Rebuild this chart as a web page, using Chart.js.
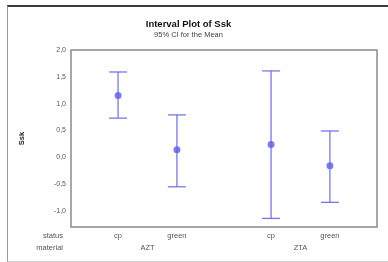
<!DOCTYPE html>
<html><head><meta charset="utf-8">
<script src="https://cdn.jsdelivr.net/npm/chart.js@4/dist/chart.umd.min.js"></script>
<style>
html,body{margin:0;padding:0;background:#fff;}
#wrap{position:relative;width:388px;height:262px;overflow:hidden;}
#frame{position:absolute;left:7px;top:5px;width:390px;height:254px;border-top:2px solid #3a3a3a;border-left:1px solid #9a9a9a;border-bottom:1px solid #d0d0d0;pointer-events:none;}
canvas{position:absolute;left:0;top:0;}
</style></head>
<body><div id="wrap"><canvas id="c" width="388" height="262"></canvas><div id="frame"></div></div>
<script>
const statusLabels = ['cp', 'green', 'cp', 'green'];
const materialLabels = ['AZT', 'ZTA'];
const xPositions = [1, 2, 3.6, 4.6];
const means = [1.15, 0.14, 0.24, -0.16];
const lower = [0.73, -0.55, -1.14, -0.84];
const upper = [1.59, 0.79, 1.61, 0.49];
const yTicks = [-1.0, -0.5, 0.0, 0.5, 1.0, 1.5, 2.0];

const lineColor = 'rgba(95,95,235,0.85)';
const datasets = [];
xPositions.forEach((x, i) => {
  datasets.push({
    type: 'line',
    data: [{x: x, y: lower[i]}, {x: x, y: upper[i]}],
    borderColor: lineColor,
    borderWidth: 1.3,
    pointStyle: 'line',
    pointRadius: 9,
    pointBorderColor: lineColor,
    pointBorderWidth: 1.3,
    fill: false
  });
});
datasets.push({
  type: 'scatter',
  data: xPositions.map((x, i) => ({x: x, y: means[i]})),
  pointStyle: 'circle',
  pointRadius: 3.5,
  backgroundColor: 'rgba(110,110,240,0.9)',
  borderColor: 'rgba(110,110,240,0.9)',
  borderWidth: 0
});

const extras = {
  id: 'extras',
  afterDraw(chart) {
    const ctx = chart.ctx, a = chart.chartArea, xs = chart.scales.x;
    ctx.save();
    ctx.strokeStyle = '#8a8a8a';
    ctx.lineWidth = 1.5;
    ctx.strokeRect(a.left, a.top, a.right - a.left, a.bottom - a.top);
    ctx.fillStyle = '#555';
    ctx.font = '7.5px "Liberation Sans", Arial, sans-serif';
    ctx.textBaseline = 'middle';
    ctx.textAlign = 'right';
    ctx.fillText('status', 63, 236);
    ctx.fillText('material', 63, 248);
    ctx.textAlign = 'center';
    materialLabels.forEach((m, k) => {
      const p = (xs.getPixelForValue(xPositions[2*k]) + xs.getPixelForValue(xPositions[2*k+1])) / 2;
      ctx.fillText(m, p, 248);
    });
    ctx.restore();
  }
};

new Chart(document.getElementById('c'), {
  data: { datasets },
  options: {
    responsive: false,
    animation: false,
    events: [],
    layout: { padding: { left: 0, right: 11, top: 0, bottom: 0 } },
    plugins: {
      legend: { display: false },
      tooltip: { enabled: false },
      title: {
        display: true, text: 'Interval Plot of Ssk', color: '#111',
        font: { family: '"Liberation Sans", Arial, sans-serif', size: 9.5, weight: 'bold', lineHeight: 1 },
        padding: { top: 20, bottom: 0 }
      },
      subtitle: {
        display: true, text: '95% CI for the Mean', color: '#444',
        font: { family: '"Liberation Sans", Arial, sans-serif', size: 7.5, lineHeight: 1 },
        padding: { top: 2, bottom: 11 }
      }
    },
    scales: {
      x: {
        type: 'linear', min: 0.2, max: 5.4,
        grid: { display: false, drawTicks: true, tickLength: 3, color: '#888' },
        border: { display: false },
        afterBuildTicks(s) { s.ticks = xPositions.map(v => ({value: v})); },
        afterFit(s) { s.height = 35; },
        ticks: {
          color: '#555', padding: 1, maxRotation: 0, autoSkip: false,
          font: { family: '"Liberation Sans", Arial, sans-serif', size: 7.5 },
          callback: (v, i) => statusLabels[i]
        }
      },
      y: {
        min: -1.3, max: 2.0,
        grid: { display: false, drawTicks: true, tickLength: 3, color: '#888' },
        border: { display: false },
        afterBuildTicks(s) { s.ticks = yTicks.map(v => ({value: v})); },
        afterFit(s) { s.width = 71; },
        title: {
          display: true, text: 'Ssk', color: '#222',
          font: { family: '"Liberation Sans", Arial, sans-serif', size: 7.5, weight: 'bold' },
          padding: { top: 17, bottom: 0 }
        },
        ticks: {
          color: '#555', padding: 2,
          font: { family: '"Liberation Sans", Arial, sans-serif', size: 7 },
          callback: v => v.toFixed(1).replace('.', ',')
        }
      }
    }
  },
  plugins: [extras]
});
</script></body></html>
